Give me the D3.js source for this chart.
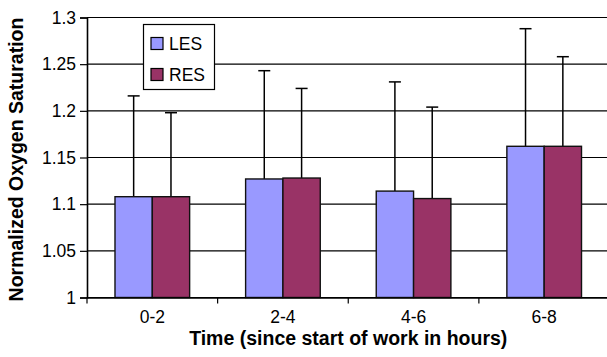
<!DOCTYPE html>
<html>
<head>
<meta charset="utf-8">
<script src="https://cdn.jsdelivr.net/npm/d3@7"></script>
<style>
  html, body { margin: 0; padding: 0; background: #fff; }
  svg { display: block; font-family: "Liberation Sans", Arial, sans-serif; }
</style>
</head>
<body>
<svg id="chart" width="607" height="357"></svg>
<script>
// Time bins since start of work
const categories = ["0-2", "2-4", "4-6", "6-8"];
const seriesNames = ["LES", "RES"];
// Mean normalized oxygen saturation per bin
const lesValues = [1.108, 1.127, 1.114, 1.162];
const resValues = [1.108, 1.128, 1.106, 1.162];
// Upper end of each error bar
const lesUpper = [1.216, 1.243, 1.231, 1.288];
const resUpper = [1.198, 1.224, 1.204, 1.258];
const yTicks = [1, 1.05, 1.1, 1.15, 1.2, 1.25, 1.3];
const colors = ["#9999FF", "#993366"];

const svg = d3.select("#chart");
const margin = { left: 87, top: 17.5, right: -2.5, bottom: 59.5 };
const W = 607, H = 357;
const x0 = margin.left, x1 = W - margin.right;
const yTop = margin.top, yBot = H - margin.bottom;

const x = d3.scaleBand().domain(categories).range([x0, x1]).paddingInner(0).paddingOuter(0);
const y = d3.scaleLinear().domain([1, 1.3]).range([yBot, yTop]);

// bar geometry: two bars per band, gap width 150% of a bar
const barW = x.bandwidth() / 3.5;
const sub = d3.scaleBand().domain(seriesNames).range([0, barW * 2]);

const rows = categories.map((c, i) => ({
  cat: c,
  vals: [
    { s: "LES", v: lesValues[i], up: lesUpper[i], color: colors[0] },
    { s: "RES", v: resValues[i], up: resUpper[i], color: colors[1] }
  ]
}));

// horizontal gridlines
svg.append("g")
  .selectAll("line")
  .data(yTicks)
  .join("line")
  .attr("x1", x0).attr("x2", x1)
  .attr("y1", d => y(d)).attr("y2", d => y(d))
  .attr("stroke", "#000").attr("stroke-width", 1.2);

// y axis
const yAxis = d3.axisLeft(y).tickValues(yTicks).tickSize(7).tickPadding(4)
  .tickFormat(d => d3.format("")(+d.toFixed(2)));
const gy = svg.append("g").attr("transform", `translate(${x0},0)`).call(yAxis);
gy.select(".domain").attr("stroke", "#000").attr("stroke-width", 1.6);
gy.selectAll(".tick line").attr("stroke", "#000").attr("stroke-width", 1.2);
gy.selectAll(".tick text").attr("font-size", 17.5).attr("fill", "#000")
  .attr("font-family", "'Liberation Sans', Arial, sans-serif");

// error bars (upper only), drawn beneath bars
const caps = 6;
const groups = svg.append("g").selectAll("g")
  .data(rows).join("g")
  .attr("transform", d => `translate(${x(d.cat) + (x.bandwidth() - barW * 2) / 2},0)`);

groups.selectAll("line.err")
  .data(d => d.vals).join("line")
  .attr("class", "err")
  .attr("x1", d => sub(d.s) + barW / 2).attr("x2", d => sub(d.s) + barW / 2)
  .attr("y1", d => y(d.v)).attr("y2", d => y(d.up))
  .attr("stroke", "#000").attr("stroke-width", 1.5);
groups.selectAll("line.cap")
  .data(d => d.vals).join("line")
  .attr("class", "cap")
  .attr("x1", d => sub(d.s) + barW / 2 - caps).attr("x2", d => sub(d.s) + barW / 2 + caps)
  .attr("y1", d => y(d.up)).attr("y2", d => y(d.up))
  .attr("stroke", "#000").attr("stroke-width", 1.5);

groups.selectAll("rect")
  .data(d => d.vals).join("rect")
  .attr("x", d => sub(d.s))
  .attr("width", barW)
  .attr("y", d => y(d.v))
  .attr("height", d => y(1) - y(d.v))
  .attr("fill", d => d.color)
  .attr("stroke", "#111").attr("stroke-width", 1.4);

// x axis
const xAxis = d3.axisBottom(x).tickSize(0).tickPadding(13);
const gx = svg.append("g").attr("transform", `translate(0,${yBot})`).call(xAxis);
gx.select(".domain").attr("stroke", "#000").attr("stroke-width", 1.6);
gx.selectAll(".tick text").attr("font-size", 17.5).attr("fill", "#000")
  .attr("font-family", "'Liberation Sans', Arial, sans-serif");
// category separator ticks
const bounds = categories.map(c => x(c)).concat([x1]);
gx.selectAll("line.sep").data(bounds).join("line")
  .attr("class", "sep")
  .attr("x1", d => d).attr("x2", d => d)
  .attr("y1", 0).attr("y2", 6)
  .attr("stroke", "#000").attr("stroke-width", 1.2);

// axis titles
svg.append("text")
  .attr("x", (x0 + x1) / 2).attr("y", 345)
  .attr("text-anchor", "middle")
  .attr("font-size", 19.5).attr("font-weight", "bold")
  .text("Time (since start of work in hours)");
svg.append("text")
  .attr("transform", `translate(23,${(yTop + yBot) / 2 + 2}) rotate(-90)`)
  .attr("text-anchor", "middle")
  .attr("font-size", 19.5).attr("font-weight", "bold")
  .text("Normalized Oxygen Saturation");

// legend
const lg = svg.append("g").attr("transform", "translate(143.5,24.5)");
lg.append("rect").attr("width", 71).attr("height", 65)
  .attr("fill", "#fff").attr("stroke", "#000").attr("stroke-width", 1.2);
const items = lg.selectAll("g.item").data(seriesNames).join("g")
  .attr("class", "item")
  .attr("transform", (d, i) => `translate(7.5,${13 + i * 31})`);
items.append("rect").attr("width", 12).attr("height", 12)
  .attr("fill", (d, i) => colors[i]).attr("stroke", "#000").attr("stroke-width", 1.2);
items.append("text").attr("x", 18).attr("y", 12)
  .attr("font-size", 17.5).text(d => d);
</script>
</body>
</html>
